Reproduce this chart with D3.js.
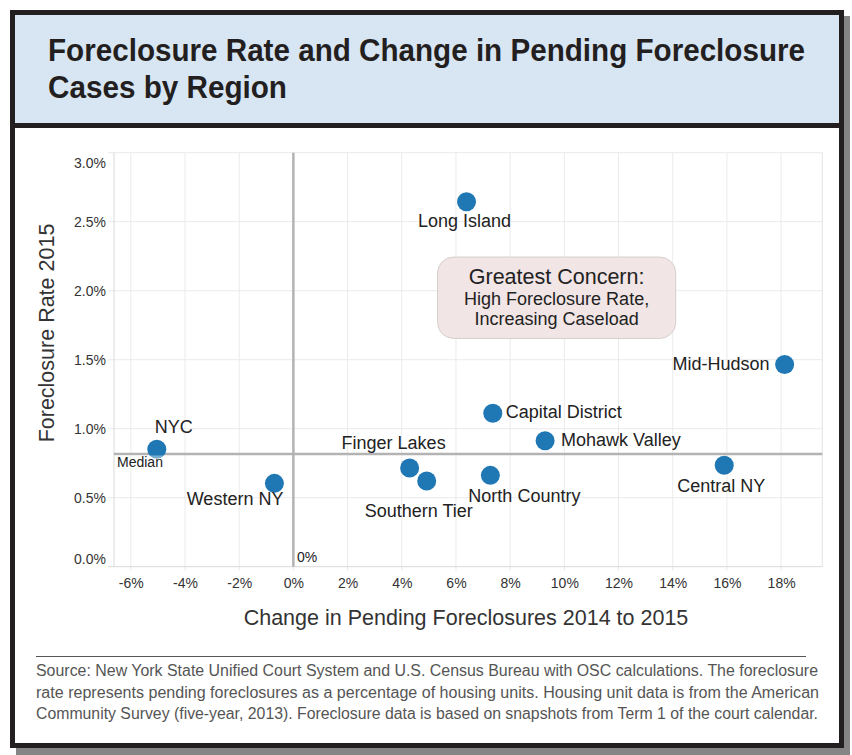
<!DOCTYPE html>
<html>
<head>
<meta charset="utf-8">
<script src="https://cdn.jsdelivr.net/npm/d3@7"></script>
<style>
  html, body { margin: 0; padding: 0; background: #fff; }
  svg { display: block; }
</style>
</head>
<body>
<svg id="chart" width="852" height="755"></svg>
<script>
// ---------- DATA ----------
const regions = ["Long Island", "Mid-Hudson", "Capital District", "Mohawk Valley", "Central NY",
                 "Finger Lakes", "Southern Tier", "North Country", "NYC", "Western NY"];
const changePct = [6.39, 18.13, 7.36, 9.29, 15.9, 4.29, 4.92, 7.27, -5.04, -0.70];
const ratePct   = [2.644, 1.465, 1.112, 0.913, 0.735, 0.715, 0.621, 0.662, 0.851, 0.604];
const medianRate = 0.817;
const xTicks = [-6, -4, -2, 0, 2, 4, 6, 8, 10, 12, 14, 16, 18];
const yTicks = [0, 0.5, 1.0, 1.5, 2.0, 2.5, 3.0];
const titleLines = ["Foreclosure Rate and Change in Pending Foreclosure", "Cases by Region"];
const xTitle = "Change in Pending Foreclosures 2014 to 2015";
const yTitle = "Foreclosure Rate 2015";
const concernLines = ["Greatest Concern:", "High Foreclosure Rate,", "Increasing Caseload"];
const footerLines = [
  "Source: New York State Unified Court System and U.S. Census Bureau with OSC calculations. The foreclosure",
  "rate represents pending foreclosures as a percentage of housing units. Housing unit data is from the American",
  "Community Survey (five-year, 2013). Foreclosure data is based on snapshots from Term 1 of the court calendar."
];

// label placement (layout, not data)
const labelPlace = {
  "Long Island":      {dx: -2,  dy: 25,  anchor: "middle"},
  "Mid-Hudson":       {dx: -15, dy: 5,   anchor: "end"},
  "Capital District": {dx: 13,  dy: 5,   anchor: "start"},
  "Mohawk Valley":    {dx: 16,  dy: 5,   anchor: "start"},
  "Central NY":       {dx: -3,  dy: 27,  anchor: "middle"},
  "Finger Lakes":     {dx: -16, dy: -19, anchor: "middle"},
  "Southern Tier":    {dx: -8,  dy: 36,  anchor: "middle"},
  "North Country":    {dx: -22, dy: 27,  anchor: "start"},
  "NYC":              {dx: -2,  dy: -16, anchor: "start"},
  "Western NY":       {dx: 9,   dy: 22,  anchor: "end"}
};

const svg = d3.select("#chart");
const FONT = "'Liberation Sans', Arial, Helvetica, sans-serif";
const NARROW = "'Liberation Sans Narrow', 'Arial Narrow', 'Liberation Sans', Arial, sans-serif";

// ---------- FRAME ----------
svg.append("rect").attr("x", 16).attr("y", 16).attr("width", 834).attr("height", 739).attr("fill", "#858585");
svg.append("rect").attr("x", 12.5).attr("y", 12.5).attr("width", 829).attr("height", 733)
  .attr("fill", "#fff").attr("stroke", "#231f20").attr("stroke-width", 5);
svg.append("rect").attr("x", 15).attr("y", 15).attr("width", 824).attr("height", 108).attr("fill", "#d8e5f3");
svg.append("line").attr("x1", 15).attr("x2", 839).attr("y1", 125.5).attr("y2", 125.5)
  .attr("stroke", "#231f20").attr("stroke-width", 5);

// Title
const titleLens = [757, 239];
titleLines.forEach((t, i) => {
  svg.append("text").attr("x", 48).attr("y", 61 + i * 37)
    .attr("font-family", NARROW).attr("font-weight", "bold").attr("font-size", 31)
    .attr("fill", "#231f20")
    .attr("textLength", titleLens[i]).attr("lengthAdjust", "spacingAndGlyphs")
    .text(t);
});

// ---------- SCALES ----------
const x = d3.scaleLinear().domain([-6.62, 19.52]).range([114, 822.3]);
const y = d3.scaleLinear().domain([0, 3]).range([566.7, 152.7]);
const [x0, x1] = x.range();
const [y0, y1] = y.range();

const g = svg.append("g");

// gridlines
g.selectAll(".vgrid").data(xTicks).join("line")
  .attr("x1", d => x(d)).attr("x2", d => x(d)).attr("y1", y1).attr("y2", y0 + 4)
  .attr("stroke", "#ebebeb").attr("stroke-width", 1);
g.selectAll(".hgrid").data(yTicks.filter(d => d > 0)).join("line")
  .attr("x1", x0 - 6).attr("x2", x1).attr("y1", d => y(d)).attr("y2", d => y(d))
  .attr("stroke", "#ebebeb").attr("stroke-width", 1);

// borders
g.append("line").attr("x1", x0).attr("x2", x0).attr("y1", y1).attr("y2", y0)
  .attr("stroke", "#d9d9d9").attr("stroke-width", 1);
g.append("line").attr("x1", x1).attr("x2", x1).attr("y1", y1).attr("y2", y0)
  .attr("stroke", "#e3e3e3").attr("stroke-width", 1);
g.append("line").attr("x1", x0 - 6).attr("x2", x1).attr("y1", y0).attr("y2", y0)
  .attr("stroke", "#d9d9d9").attr("stroke-width", 1);

// axes (labels via d3 axis)
const xAxis = d3.axisBottom(x).tickValues(xTicks).tickFormat(d => d + "%").tickSize(0).tickPadding(0);
const gx = g.append("g").attr("transform", `translate(0,${y0})`).call(xAxis);
gx.select(".domain").remove();
gx.selectAll("text").attr("dy", null).attr("y", 21)
  .attr("font-family", FONT).attr("font-size", 14).attr("fill", "#333");

const yAxis = d3.axisLeft(y).tickValues(yTicks).tickFormat(d => d.toFixed(1) + "%").tickSize(0).tickPadding(8);
const gy = g.append("g").attr("transform", `translate(${x0},0)`).call(yAxis);
gy.select(".domain").remove();
gy.selectAll("text")
  .attr("font-family", FONT).attr("font-size", 14).attr("fill", "#333")
  .attr("x", -8)
  .attr("dy", d => d === 3 ? "1.05em" : (d === 0 ? "-0.25em" : "0.35em"));

// axis titles
svg.append("text").attr("x", 466).attr("y", 625).attr("text-anchor", "middle")
  .attr("font-family", FONT).attr("font-size", 21.5).attr("fill", "#333").text(xTitle);
svg.append("text").attr("transform", "translate(54,333) rotate(-90)").attr("text-anchor", "middle")
  .attr("font-family", FONT).attr("font-size", 21.5).attr("fill", "#333").text(yTitle);

// reference lines
g.append("line").attr("x1", x(0)).attr("x2", x(0)).attr("y1", y1).attr("y2", y0)
  .attr("stroke", "#b3b3b3").attr("stroke-width", 2.5);
g.append("line").attr("x1", x0).attr("x2", x1).attr("y1", y(medianRate)).attr("y2", y(medianRate))
  .attr("stroke", "#b3b3b3").attr("stroke-width", 2.5);

// annotation box
const boxL = x(5.32), boxR = x(14.11), boxT = y(2.244), boxB = y(1.654);
g.append("rect").attr("x", boxL).attr("y", boxT).attr("width", boxR - boxL).attr("height", boxB - boxT)
  .attr("rx", 16).attr("ry", 16).attr("fill", "#f1e5e5").attr("stroke", "#d6cfcf").attr("stroke-width", 1);
const boxC = (boxL + boxR) / 2;
[{t: concernLines[0], yy: boxT + 26.5, s: 21.5}, {t: concernLines[1], yy: boxT + 48, s: 18}, {t: concernLines[2], yy: boxT + 67.5, s: 18}]
  .forEach(o => {
    g.append("text").attr("x", boxC).attr("y", o.yy).attr("text-anchor", "middle")
      .attr("font-family", FONT).attr("font-size", o.s).attr("fill", "#222").text(o.t);
  });

// points
const pts = regions.map((r, i) => ({name: r, cx: changePct[i], ry: ratePct[i]}));
g.selectAll(".pt").data(pts).join("circle")
  .attr("cx", d => x(d.cx)).attr("cy", d => y(d.ry)).attr("r", 9.5)
  .attr("fill", "#1f77b4");

// median label with translucent backing
g.append("rect").attr("x", 115).attr("y", y(medianRate) + 1.5).attr("width", 52).attr("height", 16)
  .attr("fill", "#fff").attr("fill-opacity", 0.4);
g.append("text").attr("x", 117).attr("y", y(medianRate) + 13)
  .attr("font-family", FONT).attr("font-size", 14).attr("fill", "#222").text("Median");
g.append("text").attr("x", x(0) + 3.5).attr("y", y0 - 5)
  .attr("font-family", FONT).attr("font-size", 14).attr("fill", "#222").text("0%");

// point labels
g.selectAll(".lbl").data(pts).join("text")
  .attr("x", d => x(d.cx) + labelPlace[d.name].dx)
  .attr("y", d => y(d.ry) + labelPlace[d.name].dy)
  .attr("text-anchor", d => labelPlace[d.name].anchor)
  .attr("font-family", FONT).attr("font-size", 18).attr("fill", "#222")
  .text(d => d.name);

// footer
svg.append("line").attr("x1", 36).attr("x2", 806).attr("y1", 656.5).attr("y2", 656.5)
  .attr("stroke", "#555").attr("stroke-width", 1.2);
const footLens = [782, 783, 782];
footerLines.forEach((t, i) => {
  svg.append("text").attr("x", 36).attr("y", 676 + i * 21.5)
    .attr("font-family", NARROW).attr("font-size", 16).attr("fill", "#555")
    .attr("textLength", footLens[i]).attr("lengthAdjust", "spacingAndGlyphs")
    .text(t);
});
</script>
</body>
</html>
